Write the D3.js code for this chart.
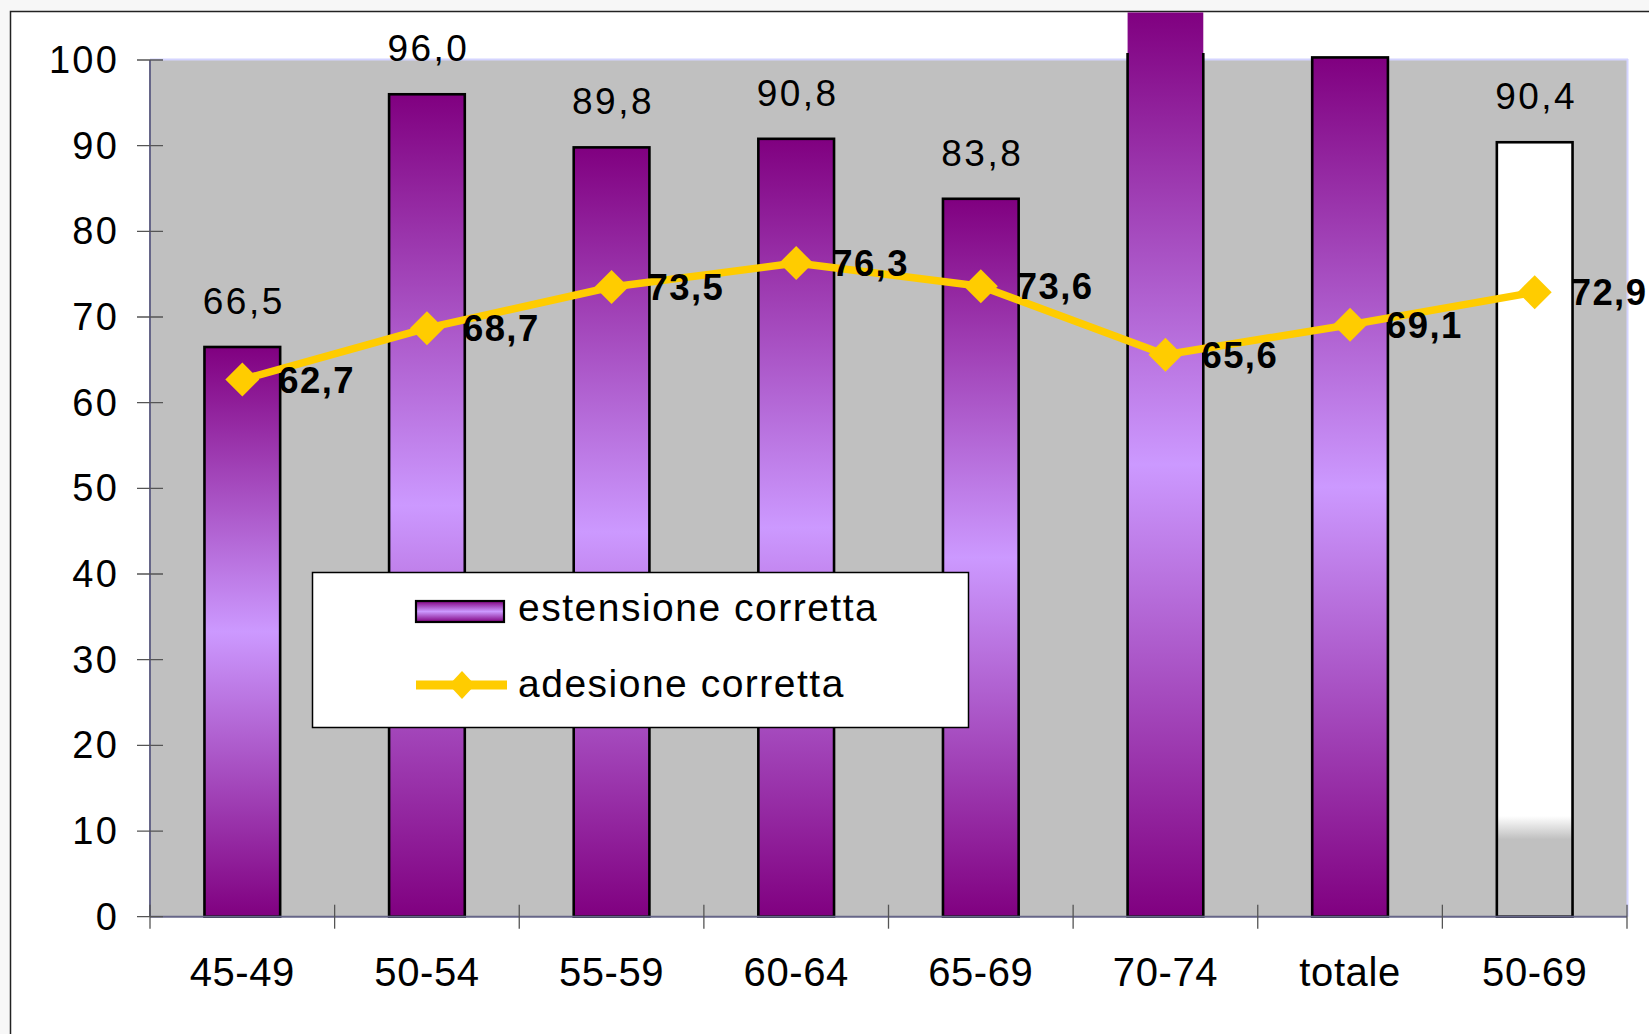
<!DOCTYPE html>
<html>
<head>
<meta charset="utf-8">
<script src="https://cdn.jsdelivr.net/npm/d3@7/dist/d3.min.js"></script>
<style>
  html, body { margin: 0; padding: 0; background: #f7f7f7; overflow: hidden; }
  svg { display: block; font-family: "Liberation Sans", Arial, sans-serif; }
</style>
</head>
<body>
<svg id="chart" width="1649" height="1034"></svg>
<script>
// Age groups on the category axis
const categories = ["45-49", "50-54", "55-59", "60-64", "65-69", "70-74", "totale", "50-69"];
// "estensione corretta" (bars)
const estensione = [66.5, 96.0, 89.8, 90.8, 83.8, 110.0, 100.3, 90.4];
// "adesione corretta" (line)
const adesione = [62.7, 68.7, 73.5, 76.3, 73.6, 65.6, 69.1, 72.9];
// Value axis ticks
const yTicks = [0, 10, 20, 30, 40, 50, 60, 70, 80, 90, 100];
// Series names for the legend
const seriesNames = ["estensione corretta", "adesione corretta"];

const W = 1649, H = 1034;
const plot = { left: 150, right: 1627, top: 60, bottom: 916.7 };
const frame = { x: 10.5, y: 11.5 };
const fmt = v => v.toFixed(1).replace(".", ",");

const svg = d3.select("#chart");
const defs = svg.append("defs");

// Purple bar fill: dark at both ends, lavender in the middle
const grad = defs.append("linearGradient").attr("id", "barGrad")
  .attr("x1", 0).attr("y1", 0).attr("x2", 0).attr("y2", 1);
grad.append("stop").attr("offset", "0%").attr("stop-color", "#800080");
grad.append("stop").attr("offset", "50%").attr("stop-color", "#cc99ff");
grad.append("stop").attr("offset", "100%").attr("stop-color", "#800080");

// Pale fill for the summary bar, meeting the plot background at the base
const paleGrad = defs.append("linearGradient").attr("id", "paleGrad")
  .attr("x1", 0).attr("y1", 0).attr("x2", 0).attr("y2", 1);
paleGrad.append("stop").attr("offset", "0%").attr("stop-color", "#ffffff");
paleGrad.append("stop").attr("offset", "87%").attr("stop-color", "#ffffff");
paleGrad.append("stop").attr("offset", "90%").attr("stop-color", "#c0c0c0");
paleGrad.append("stop").attr("offset", "100%").attr("stop-color", "#c0c0c0");

// Clip for bar outlines (slightly above the plot top)
defs.append("clipPath").attr("id", "outlineClip")
  .append("rect").attr("x", 0).attr("y", plot.top - 7).attr("width", W).attr("height", H);
// Clip for everything inside the frame
defs.append("clipPath").attr("id", "frameClip")
  .append("rect").attr("x", frame.x + 0.75).attr("y", frame.y + 0.75).attr("width", W).attr("height", H);

// Outer frame
svg.append("rect")
  .attr("x", frame.x).attr("y", frame.y)
  .attr("width", W + 50).attr("height", H + 50)
  .attr("fill", "#ffffff").attr("stroke", "#222").attr("stroke-width", 1.5);

const g = svg.append("g").attr("clip-path", "url(#frameClip)");

const x = d3.scaleBand().domain(categories)
  .range([plot.left, plot.right]).paddingInner(0.59).paddingOuter(0.295);
const y = d3.scaleLinear().domain([0, 100]).range([plot.bottom, plot.top]);
const step = x.step(), bw = x.bandwidth();
const cx = c => x(c) + bw / 2;

// Plot background
g.append("rect")
  .attr("x", plot.left).attr("y", plot.top)
  .attr("width", plot.right - plot.left).attr("height", plot.bottom - plot.top)
  .attr("fill", "#c0c0c0");
g.append("line")
  .attr("x1", plot.left).attr("x2", plot.right + 1)
  .attr("y1", plot.top - 0.5).attr("y2", plot.top - 0.5)
  .attr("stroke", "#d4d4ff").attr("stroke-width", 2);
g.append("line")
  .attr("x1", plot.right + 0.5).attr("x2", plot.right + 0.5)
  .attr("y1", plot.top - 1).attr("y2", plot.bottom)
  .attr("stroke", "#d4d4ff").attr("stroke-width", 2);

const data = categories.map((c, i) => ({ c, v: estensione[i], a: adesione[i], i }));
const frameTop = frame.y + 0.75;

// Bars
const bars = g.append("g");
bars.selectAll("rect.fill").data(data).enter().append("rect")
  .attr("class", "fill")
  .attr("x", d => x(d.c))
  .attr("y", d => Math.max(y(d.v), frameTop))
  .attr("width", bw)
  .attr("height", d => y(0) - Math.max(y(d.v), frameTop))
  .attr("fill", d => d.c === "50-69" ? "url(#paleGrad)" : "url(#barGrad)");
bars.append("g").attr("clip-path", "url(#outlineClip)")
  .selectAll("rect").data(data).enter().append("rect")
  .attr("x", d => x(d.c))
  .attr("y", d => y(d.v))
  .attr("width", bw)
  .attr("height", d => y(0) - y(d.v))
  .attr("fill", "none").attr("stroke", "#000").attr("stroke-width", 2.6);

// Bar value labels (only values inside the axis range)
g.append("g").selectAll("text").data(data.filter(d => d.v <= y.domain()[1])).enter().append("text")
  .attr("x", d => cx(d.c) + 1.5)
  .attr("y", d => y(d.v) - 33)
  .attr("text-anchor", "middle")
  .attr("font-size", 37).attr("letter-spacing", 2.5)
  .attr("fill", "#000")
  .text(d => fmt(d.v));

// Axes
const axisColor = "#666688";
g.append("line")
  .attr("x1", plot.left).attr("x2", plot.left)
  .attr("y1", plot.top).attr("y2", plot.bottom)
  .attr("stroke", axisColor).attr("stroke-width", 2);
g.append("line")
  .attr("x1", plot.left).attr("x2", plot.right)
  .attr("y1", plot.bottom).attr("y2", plot.bottom)
  .attr("stroke", axisColor).attr("stroke-width", 2);

const yAxis = g.append("g");
yAxis.selectAll("line").data(yTicks).enter().append("line")
  .attr("x1", plot.left - 13).attr("x2", plot.left + 13)
  .attr("y1", d => y(d)).attr("y2", d => y(d))
  .attr("stroke", "#555").attr("stroke-width", 1.3);
yAxis.selectAll("text").data(yTicks).enter().append("text")
  .attr("x", 119).attr("y", d => y(d) + 13)
  .attr("text-anchor", "end")
  .attr("font-size", 38).attr("letter-spacing", 2.2).attr("fill", "#000")
  .text(d => d);

const boundaries = d3.range(categories.length + 1).map(i => plot.left + i * step);
g.append("g").selectAll("line").data(boundaries).enter().append("line")
  .attr("x1", d => d).attr("x2", d => d)
  .attr("y1", plot.bottom - 12).attr("y2", plot.bottom + 12)
  .attr("stroke", "#555").attr("stroke-width", 1.3);
g.append("g").selectAll("text").data(categories).enter().append("text")
  .attr("x", d => cx(d))
  .attr("y", 986)
  .attr("text-anchor", "middle")
  .attr("font-size", 40).attr("letter-spacing", 0.6).attr("fill", "#000")
  .text(d => d);

// Line series
const diamond = (s1, s2) => `M0,${-s2}L${s1},0L0,${s2}L${-s1},0Z`;
g.append("path")
  .datum(data)
  .attr("d", d3.line().x(d => cx(d.c)).y(d => y(d.a)))
  .attr("fill", "none").attr("stroke", "#ffcc00").attr("stroke-width", 7.5)
  .attr("stroke-linejoin", "round");
g.append("g").selectAll("path").data(data).enter().append("path")
  .attr("transform", d => `translate(${cx(d.c)},${y(d.a)})`)
  .attr("d", diamond(17, 17))
  .attr("fill", "#ffcc00");
g.append("g").selectAll("text").data(data).enter().append("text")
  .attr("x", d => cx(d.c) + 36)
  .attr("y", d => y(d.a) + 13)
  .attr("font-size", 36.5).attr("font-weight", "bold").attr("letter-spacing", 1.4)
  .attr("fill", "#000")
  .text(d => fmt(d.a));

// Legend
const lg = g.append("g");
lg.append("rect")
  .attr("x", 312.5).attr("y", 572.5).attr("width", 656).attr("height", 155)
  .attr("fill", "#fff").attr("stroke", "#000").attr("stroke-width", 1.5);
lg.append("rect")
  .attr("x", 416).attr("y", 601).attr("width", 88).attr("height", 21)
  .attr("fill", "url(#barGrad)").attr("stroke", "#000").attr("stroke-width", 2.2);
lg.append("line")
  .attr("x1", 416).attr("x2", 507).attr("y1", 685).attr("y2", 685)
  .attr("stroke", "#ffcc00").attr("stroke-width", 9);
lg.append("path")
  .attr("transform", "translate(462,685)")
  .attr("d", diamond(13, 14))
  .attr("fill", "#ffcc00");
lg.selectAll("text").data(seriesNames).enter().append("text")
  .attr("x", 518)
  .attr("y", (d, i) => 621 + i * 76)
  .attr("font-size", 39).attr("letter-spacing", 1.5).attr("fill", "#000")
  .text(d => d);
</script>
</body>
</html>
